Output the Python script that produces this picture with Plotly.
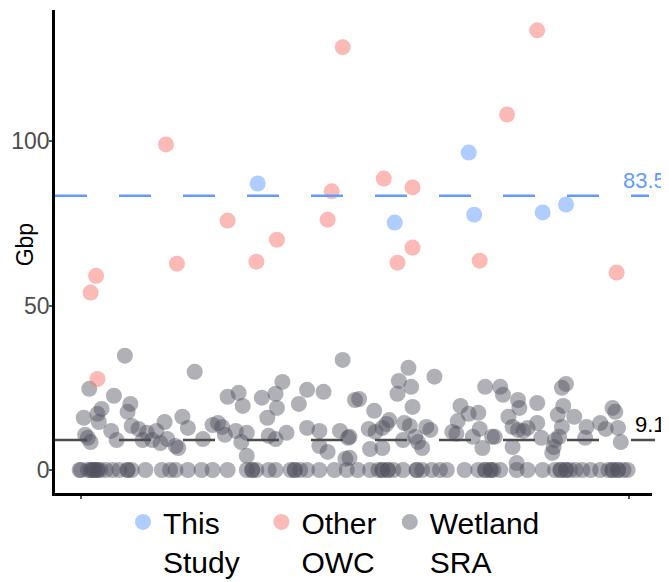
import plotly.graph_objects as go

# ---------------- data ----------------
# x: jittered group position (groups at 1..5), y: Gbp
study_x = [2.29, 3.83, 3.29, 3.87, 4.37, 4.54]
study_y = [87.2, 96.6, 75.3, 77.7, 78.4, 80.8]

owc_x = [1.62, 2.83, 2.07, 2.80, 2.43, 1.70, 2.28, 1.11, 1.07, 2.91,
         4.33, 4.11, 3.21, 3.42, 3.42, 3.31, 3.91, 4.91, 1.12]
owc_y = [99.1, 84.8, 75.9, 76.2, 70.1, 62.8, 63.4, 59.1, 54.0, 128.7,
         133.8, 108.2, 88.7, 86.0, 67.7, 63.1, 63.7, 60.1, 27.7]

sra_x = [
    # group 1 region
    1.32, 1.83, 1.06, 1.24, 1.36, 1.34, 1.15, 1.12, 1.13, 1.02,
    1.22, 1.26, 1.03, 1.05, 1.07, 1.37, 1.42, 1.45, 1.48, 1.52,
    1.55, 1.61, 1.58, 1.63, 1.69, 1.71, 1.74, 1.78, 1.89, 1.96,
    # group 2 region
    2.91, 2.47, 2.15, 2.07, 2.18, 2.32, 2.42, 2.43, 2.36, 2.59,
    2.65, 2.77, 3.00, 2.00, 2.03, 2.05, 2.13, 2.21, 2.17, 2.37,
    2.42, 2.50, 2.65, 2.74, 2.74, 2.80, 2.89, 2.95, 2.21, 2.93,
    # group 3 region
    3.39, 3.58, 3.32, 3.41, 3.31, 3.95, 3.03, 3.14, 3.42, 3.77,
    3.83, 3.90, 3.75, 3.25, 3.10, 3.15, 3.20, 3.23, 3.36, 3.40,
    3.52, 3.55, 3.44, 3.46, 3.35, 3.49, 3.20, 3.11, 2.96, 3.71,
    3.74, 3.91, 3.86, 3.93, 4.00, 2.96,
    # group 4 region
    4.54, 4.51, 4.06, 4.08, 4.19, 4.33, 4.20, 4.12, 4.52, 4.48,
    4.60, 4.88, 4.90, 4.33, 4.15, 4.19, 4.23, 4.26, 4.51, 4.69,
    4.79, 4.83, 4.92, 4.94, 4.02, 4.15, 4.36, 4.46, 4.49, 4.45,
    4.44, 4.68, 4.18,
    # zero-valued samples
    0.99, 1.07, 1.08, 1.10, 1.12, 1.14, 1.18, 1.23, 1.28, 1.34,
    1.37, 1.47, 1.59, 1.65, 1.69, 1.78, 1.88, 1.96, 2.07, 2.21,
    2.25, 2.28, 2.37, 2.42, 2.53, 2.56, 2.60, 2.65, 2.74, 2.85,
    2.94, 3.02, 3.11, 3.17, 3.20, 3.24, 3.28, 3.35, 3.45, 3.49,
    3.56, 3.62, 3.67, 3.80, 3.90, 3.95, 3.99, 4.01, 4.06, 4.18,
    4.26, 4.37, 4.46, 4.50, 4.54, 4.57, 4.61, 4.66, 4.72, 4.79,
    4.85, 4.88, 4.92, 4.96, 4.99,
    1.09, 1.12, 1.34, 2.25, 2.56, 3.20, 3.24, 3.45, 3.95, 3.99,
    4.50, 4.54, 4.88, 4.92, 1.00, 1.05,
]
sra_y = [
    34.8, 29.9, 24.7, 22.6, 20.1, 17.7, 18.6, 17.1, 14.6, 15.9,
    11.9, 9.1, 10.7, 9.8, 8.5, 13.4, 12.5, 9.1, 11.3, 9.1,
    11.9, 14.6, 8.2, 9.4, 7.3, 6.7, 16.2, 12.8, 9.4, 13.7,
    33.5, 26.8, 23.5, 22.3, 19.5, 22.0, 23.2, 18.9, 15.9, 20.1,
    24.4, 23.8, 21.3, 14.3, 13.1, 10.7, 11.9, 11.3, 8.5, 10.4,
    9.4, 11.3, 12.8, 11.9, 7.3, 5.5, 11.9, 9.8, 4.3, 3.4,
    31.1, 28.4, 27.1, 25.3, 23.2, 25.3, 21.6, 18.0, 19.2, 19.5,
    17.1, 17.4, 14.9, 15.2, 12.5, 11.6, 12.8, 14.0, 14.3, 13.4,
    13.1, 12.2, 10.1, 8.5, 9.1, 6.7, 6.7, 6.4, 10.1, 11.6,
    11.0, 12.5, 10.1, 6.7, 10.1, 3.7,
    26.2, 25.0, 25.3, 22.9, 21.3, 20.4, 18.9, 16.2, 19.5, 16.8,
    16.2, 18.9, 17.7, 14.3, 13.1, 12.2, 11.9, 12.8, 13.1, 13.1,
    14.3, 12.5, 12.8, 8.5, 10.1, 7.0, 9.8, 9.1, 10.1, 7.0,
    5.2, 9.8, 2.1,
] + [0.0] * 81

study_mean = 83.5
sra_median = 9.1

group_ticks = [1, 2, 3, 4, 5]
y_ticks = [0, 50, 100]

# ---------------- colours ----------------
BLUE = "#619CFF"
PINK = "#F8766D"
GREY = "#50505F"
FONT = "Liberation Sans, Arial, Helvetica, sans-serif"

fig = go.Figure()

fig.add_trace(go.Scatter(
    x=sra_x, y=sra_y, mode="markers", name="Wetland<br>SRA",
    marker=dict(color=GREY, size=16, opacity=0.45, line=dict(width=0)),
    legendrank=3,
))
fig.add_trace(go.Scatter(
    x=owc_x, y=owc_y, mode="markers", name="Other&nbsp;<br>OWC",
    marker=dict(color=PINK, size=16, opacity=0.5, line=dict(width=0)),
    legendrank=2,
))
fig.add_trace(go.Scatter(
    x=study_x, y=study_y, mode="markers", name="This<br>Study&nbsp;&nbsp;",
    marker=dict(color=BLUE, size=16, opacity=0.5, line=dict(width=0)),
    legendrank=1,
))

fig.add_shape(type="line", xref="x domain", yref="y", x0=0, x1=0.995,
              y0=study_mean, y1=study_mean, layer="above",
              line=dict(color=BLUE, width=2.5, dash="32px,32px"))
fig.add_shape(type="line", xref="x domain", yref="y", x0=0, x1=1.005,
              y0=sra_median, y1=sra_median, layer="above",
              line=dict(color="#4d4d4d", width=2.5, dash="32px,32px"))

fig.add_annotation(xref="paper", yref="y", x=1.027, y=study_mean,
                   text=f"{study_mean}", showarrow=False,
                   xanchor="right", yanchor="bottom", yshift=1,
                   font=dict(family=FONT, size=22, color=BLUE))
fig.add_annotation(xref="paper", yref="y", x=1.027, y=sra_median,
                   text=f"{sra_median}", showarrow=False,
                   xanchor="right", yanchor="bottom", yshift=1,
                   font=dict(family=FONT, size=22, color="black"))
fig.add_annotation(xref="paper", yref="paper", x=-0.05, y=0.513,
                   text="Gbp", showarrow=False, textangle=-90,
                   xanchor="center", yanchor="middle",
                   font=dict(family=FONT, size=23, color="black"))

fig.update_xaxes(
    range=[0.81, 5.168], tickvals=group_ticks, ticktext=[""] * 5,
    showgrid=False, zeroline=False, showline=True, linecolor="black",
    linewidth=2.5, ticks="outside", ticklen=3, tickcolor="#555555",
    tickwidth=1.5, automargin=False,
)
fig.update_yaxes(
    range=[-7, 140], tickvals=y_ticks, showgrid=False, zeroline=False,
    showline=True, linecolor="black", linewidth=2.5, ticks="outside",
    ticklen=3, tickcolor="#555555", tickwidth=1.5, automargin=False,
    ticklabelstandoff=-5,
    tickfont=dict(family=FONT, size=23, color="#4D4D4D"),
)

# page body has an 8px margin, so the figure is sized/offset to compensate
fig.update_layout(
    width=661, height=574,
    margin=dict(l=47, r=17, t=2, b=89, autoexpand=False),
    plot_bgcolor="white", paper_bgcolor="white",
    font=dict(family=FONT, color="black"),
    legend=dict(orientation="h", xref="container", x=0.174, xanchor="left",
                yref="container", y=0.150, yanchor="top",
                itemsizing="trace",
                font=dict(family=FONT, size=30, color="black"),
                valign="top", tracegroupgap=0),
    showlegend=True,
)

fig.write_html("out.html")
